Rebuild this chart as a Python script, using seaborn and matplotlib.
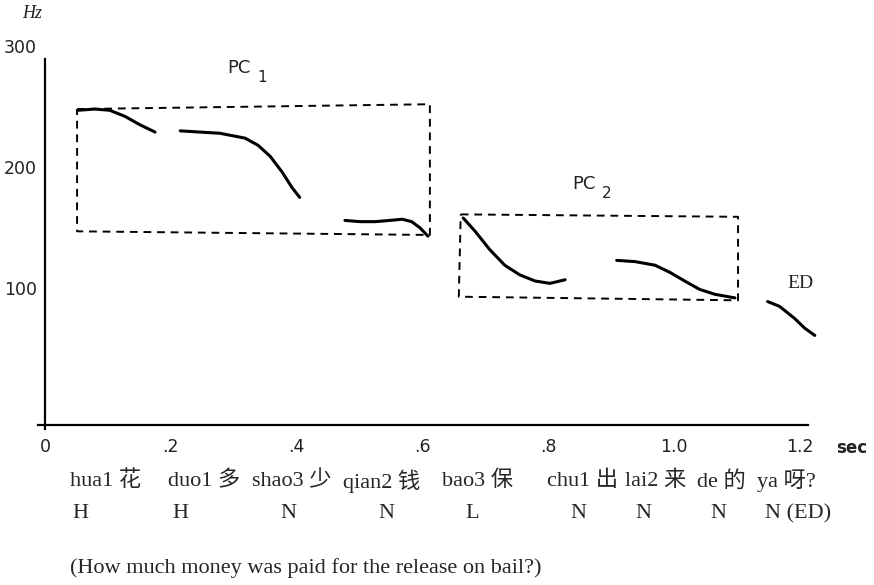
import numpy as np
import pandas as pd
from matplotlib import pyplot as plt
from matplotlib import transforms
import seaborn as sns

# pitch contour segments (time in sec, F0 in Hz)
seg_hua = [[0.052, 0.079, 0.103, 0.127, 0.151, 0.175],
           [260, 261, 260, 255, 248, 242]]
seg_duoshao = [[0.215, 0.246, 0.278, 0.318, 0.339, 0.358, 0.377, 0.393, 0.405],
               [243, 242, 241, 237, 231, 222, 209, 196, 188]]
seg_qian = [[0.477, 0.501, 0.525, 0.548, 0.568, 0.583, 0.596, 0.609],
            [169, 168, 168, 169, 170, 168, 163, 156]]
seg_bao = [[0.665, 0.684, 0.707, 0.731, 0.755, 0.779, 0.803, 0.827],
           [171, 160, 145, 132, 124, 119, 117, 120]]
seg_chulai = [[0.909, 0.938, 0.970, 0.994, 1.017, 1.041, 1.065, 1.097],
              [136, 135, 132, 126, 119, 112, 108, 105]]
seg_ya = [[1.149, 1.168, 1.192, 1.208, 1.224],
          [102, 98, 88, 80, 74]]

# dashed boxes around the prosodic constituents
pc1_box = [[0.051, 0.612, 0.612, 0.051, 0.051], [261, 265, 157, 160, 261]]
pc2_box = [[0.661, 1.102, 1.102, 0.658, 0.661], [174, 172, 103, 106, 174]]

xticks = [0, 0.2, 0.4, 0.6, 0.8, 1.0, 1.2]
xticklabels = ['0', '.2', '.4', '.6', '.8', '1.0', '1.2']
yticks = [100, 200, 300]

syllables = ['hua1 花', 'duo1 多', 'shao3 少', 'qian2 钱', 'bao3 保',
             'chu1 出', 'lai2 来', 'de 的', 'ya 呀?']
tones = ['H', 'H', 'N', 'N', 'L', 'N', 'N', 'N', 'N (ED)']
gloss = '(How much money was paid for the release on bail?)'

segs = [seg_hua, seg_duoshao, seg_qian, seg_bao, seg_chulai, seg_ya]
df = pd.concat([pd.DataFrame({'t': s[0], 'f0': s[1], 'seg': i})
                for i, s in enumerate(segs)], ignore_index=True)

sns.set_style('white')
fig = plt.figure(figsize=(8.74, 5.85), dpi=100)
ax = fig.add_axes([0.0435, 0.2735, 0.906, 0.658])

sns.lineplot(data=df, x='t', y='f0', units='seg', estimator=None,
             color='black', lw=2.2, ax=ax)
for box in [pc1_box, pc2_box]:
    sns.lineplot(x=box[0], y=box[1], sort=False, estimator=None, color='black',
                 lw=1.4, linestyle=(0, (4, 3)), ax=ax)

ax.set_xlim(-0.0111, 1.248)
ax.set_ylim(0, 318)
sns.despine(ax=ax)
for side in ['left', 'bottom']:
    ax.spines[side].set_color('black')
    ax.spines[side].set_linewidth(1.6)
ax.spines['left'].set_position(('data', 0))
ax.spines['bottom'].set_bounds(-0.0111, 1.213)
ax.spines['left'].set_bounds(-3, 302)

ax.set_xticks(xticks)
ax.set_xticklabels(xticklabels, fontsize=12.5)
ax.set_yticks(yticks)
ax.set_yticklabels([str(v) for v in yticks], fontsize=12.5, va='bottom')
ax.tick_params(axis='both', direction='out', length=4, width=1.2, color='black',
               labelcolor='#222222', pad=5)
ax.tick_params(axis='y', pad=2)
# labels sit a little above their ticks in the original
lift = transforms.ScaledTranslation(0, 5 / 100, fig.dpi_scale_trans)
for lab in ax.get_yticklabels():
    lab.set_transform(lab.get_transform() + lift)
ax.set_xlabel('')
ax.set_ylabel('')

ink = '#222222'
ax.text(0.29, 295, 'PC', fontsize=13, va='center', color=ink)
ax.text(0.337, 287, '1', fontsize=11, va='center', color=ink)
ax.text(0.839, 199, 'PC', fontsize=13, va='center', color=ink)
ax.text(0.886, 191, '2', fontsize=11, va='center', color=ink)
ax.text(1.18, 113, 'ED', fontsize=14, family='Liberation Serif', color=ink)

fig.text(22 / 874, 1 - 13 / 585, 'Hz', fontsize=13, style='italic', va='center',
         family='Liberation Serif', color=ink)
fig.text(836 / 874, 1 - 448 / 585, 'sec', fontsize=12, va='center',
         fontweight='bold', color=ink)

fam = ['Liberation Serif', 'Noto Sans CJK SC']
syl_x = [70, 168, 252, 343, 442, 547, 625, 697, 757]
tone_x = [72, 172, 280, 378, 465, 570, 635, 710, 765]
for s, x in zip(syllables, syl_x):
    fig.text(x / 874, 1 - 481 / 585, s, fontsize=16, family=fam, va='center')
for s, x in zip(tones, tone_x):
    fig.text(x / 874, 1 - 514 / 585, s, fontsize=16, family=fam, va='center')
fig.text(70 / 874, 1 - 568 / 585, gloss, fontsize=16, family=fam, va='center')

fig.savefig('out.png', dpi=100)
